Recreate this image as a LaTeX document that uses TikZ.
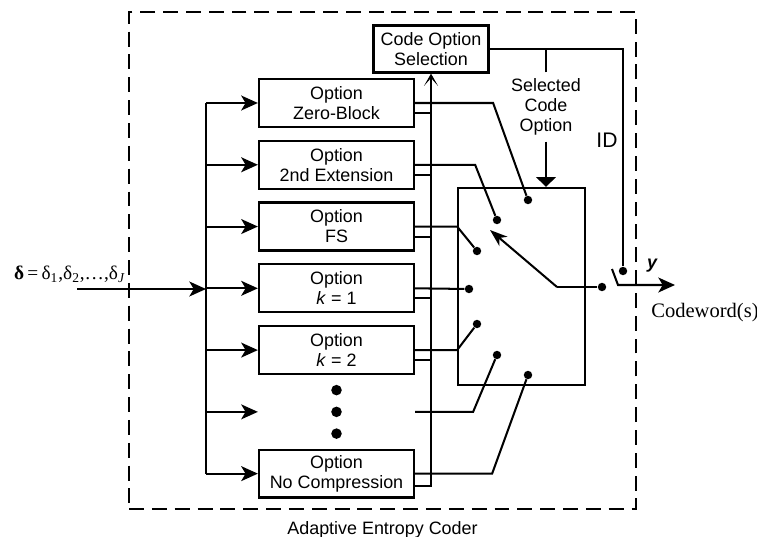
\documentclass[tikz,border=0pt]{standalone}
\usepackage{fontspec}
\setmainfont{Liberation Sans}
\newfontfamily\seriffont{Liberation Serif}
\usetikzlibrary{positioning,arrows.meta}

\begin{document}
\begin{tikzpicture}
        [x=0.02cm, y=-0.02cm,
        every node/.style={font=\fontsize{10.2}{11.4}\selectfont},
        optbox/.style={rectangle, draw, line width=1.3pt, align=center, inner sep=1pt,
            minimum width=3.1cm, minimum height=0.96cm},
        coderbox/.style={rectangle, draw, line width=1.1pt, dash pattern=on 8.5pt off 4.5pt,
            minimum width=10.14cm, minimum height=9.94cm},
        pin/.style={circle, fill, inner sep=0pt, minimum size=4.8pt},
        bigpin/.style={circle, fill, inner sep=0pt, minimum size=6pt},
        wire/.style={line width=1.15pt},
        arr/.style={wire, -{Stealth[length=9.5pt,width=8.5pt,inset=2.5pt]}},]

        \useasboundingbox (0,0) rectangle (757,537);

        \node[coderbox] (aec) at (382.5,260.5) {};
        \node[below=3pt of aec] (aeclab) {Adaptive Entropy Coder};

        \node[optbox] (opt1) at (336.5,103) {Option\\Zero-Block};
        \node[optbox, below=0.23cm of opt1] (opt2) {Option\\2nd Extension};
        \node[optbox, below=0.23cm of opt2] (opt3) {Option\\FS};
        \node[optbox, below=0.23cm of opt3] (opt4) {Option\\\textit{k} = 1};
        \node[optbox, below=0.23cm of opt4] (opt5) {Option\\\textit{k} = 2};
        \node[optbox, draw=none, below=0.23cm of opt5] (mid) {};
        \node[optbox, below=0.23cm of mid] (opt7) {Option\\No Compression};

        \node[bigpin] (vdot2) at (mid) {};
        \node[bigpin, above=0.21cm of vdot2] (vdot1) {};
        \node[bigpin, below=0.21cm of vdot2] (vdot3) {};

        \node[optbox, minimum width=2.3cm, minimum height=0.94cm] (csel) at (431,49) {Code Option\\Selection};
        \node[rectangle, draw, line width=1.3pt, minimum width=2.54cm, minimum height=3.94cm] (sw) at (521.5,286.5) {};
        \node[align=center] (sel) at (546,107) {Selected\\Code\\Option};
        \node (idlab) at (607,140) {\fontsize{12}{14}\selectfont ID};

        \node[anchor=west] (dlab) at (8,274)
            {\seriffont\fontsize{11}{13}\selectfont\textbf{δ}\,=\,δ\textsubscript{1},δ\textsubscript{2},…,δ\textsubscript{\textit{J}}};
        \coordinate (in) at (77,289);
        \coordinate (bus) at (206,0);

        \node[pin] (c1) at (528,200) {};
        \node[pin] (c2) at (497,220) {};
        \node[pin] (c3) at (477,251) {};
        \node[pin] (c4) at (469,289) {};
        \node[pin] (c5) at (477,324) {};
        \node[pin] (c6) at (497,355) {};
        \node[pin] (c7) at (528,375) {};

        \coordinate (piv) at (557,287);
        \coordinate (armtip) at (490,230);
        \node[pin] (o1) at (602,287) {};
        \node[pin] (idp) at (623,271) {};
        \coordinate (lv) at (612,269);
        \coordinate (lk) at (618,285);
        \coordinate (outp) at (675,285);
        \node (ylab) at (652,266) {\bfseries\itshape y};
        \node[font=\seriffont\fontsize{11.7}{13}\selectfont] (cw) at (705,313) {Codeword(s)};

        \draw[arr] (in) -- (in -| bus);
        \draw[wire] (opt1.west -| bus) -- (opt7.west -| bus);
        \foreach \n in {opt1,opt2,opt3,opt4,opt5,mid,opt7}
            \draw[arr] (\n.west -| bus) -- (\n.west);

        \foreach \n in {opt1,opt2,opt3,opt4,opt5}
            \draw[wire] ([yshift=-5.7pt]\n.east) -- ++(16,0);
        \draw[wire, -{Stealth[length=7pt,width=8pt,inset=4.5pt]}] ([yshift=-6.8pt]opt7.east) -| (csel.south);

        \draw[wire] (opt1.east) -- ++(78,0) -- (c1);
        \draw[wire] (opt2.east) -- ++(60,0) -- (c2);
        \draw[wire] (opt3.east) -- ++(42,0) -- (c3);
        \draw[wire] (opt4.east) -- (c4);
        \draw[wire] (opt5.east) -- ++(42,0) -- (c5);
        \draw[wire] (mid.east) -- ++(58,0) -- (c6);
        \draw[wire] (opt7.east) -- ++(77,0) -- (c7);

        \draw[wire] (csel.east) -| (idp);
        \draw[wire] (sel.north) -- (sel.north |- csel.east);
        \draw[wire, -{Triangle[length=5.5pt,width=11pt]}] (sel.south) -- (sel.south |- sw.north);

        \draw[wire] (piv) -- (o1);
        \draw[wire, -{Stealth[length=10pt,width=7pt,inset=3pt]}] (piv) -- (armtip);
        \draw[arr] (lv) -- (lk) -- (outp);

    \end{tikzpicture}
\end{document}
